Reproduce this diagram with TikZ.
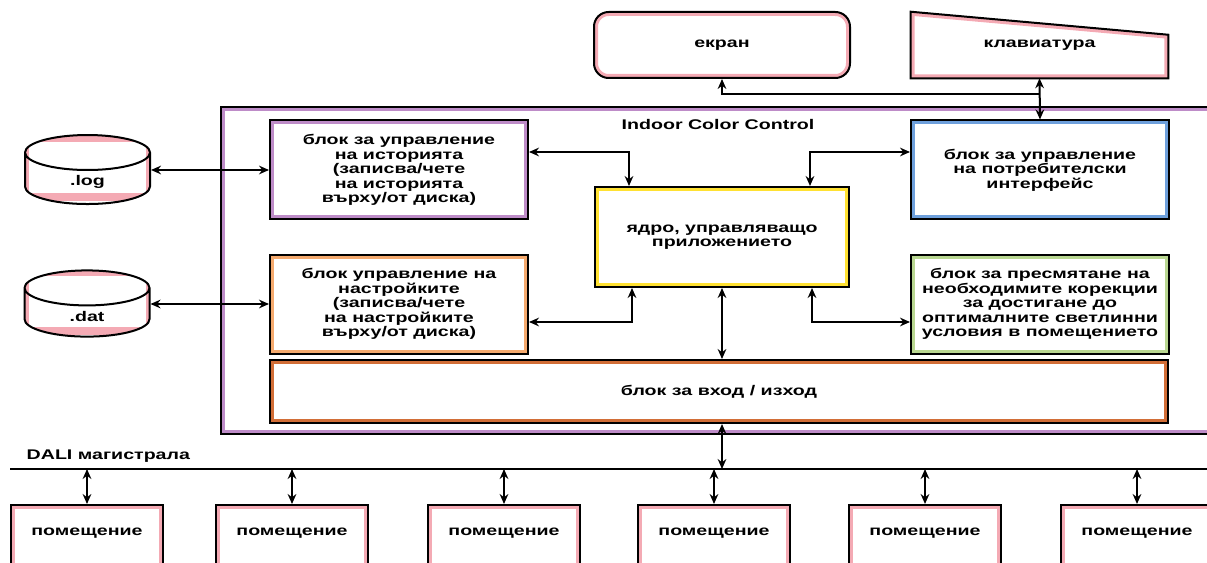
\documentclass[tikz,border=0pt]{standalone}
\usepackage{fontspec}
\setmainfont{Liberation Sans}[FakeStretch=1.4]
\usetikzlibrary{arrows.meta,shapes.geometric,positioning}

\definecolor{bandpink}{RGB}{244,170,180}
\definecolor{bandpurple}{RGB}{190,140,200}
\definecolor{bandorange}{RGB}{245,170,110}
\definecolor{bandyellow}{RGB}{255,225,50}
\definecolor{bandblue}{RGB}{110,160,220}
\definecolor{bandgreen}{RGB}{185,215,145}
\definecolor{bandrust}{RGB}{210,110,55}

\begin{document}
\begin{tikzpicture}[
    x=0.75pt, y=-0.75pt,
    font=\fontsize{10.5}{10.8}\selectfont\bfseries,
    block/.style={draw=black, line width=1.5pt, rectangle, align=center, inner sep=2pt,
        path picture={\draw[#1, line width=6pt] (path picture bounding box.south west) rectangle (path picture bounding box.north east);}},
    unit/.style={block=#1, minimum width=193.5pt, minimum height=74.25pt},
    screen/.style={draw=black, line width=1.5pt, rectangle, rounded corners=11pt, minimum width=192pt, minimum height=49.5pt,
        path picture={\draw[bandpink, line width=6pt, rounded corners=11pt] (path picture bounding box.south west) rectangle (path picture bounding box.north east);}},
    cyl/.style={cylinder, shape border rotate=90, shape aspect=0.8, draw=black, line width=1.5pt, minimum width=93.75pt, minimum height=44pt,
        path picture={\node[cylinder, shape border rotate=90, shape aspect=0.8, draw=bandpink, line width=6pt, minimum width=93.75pt, minimum height=44pt, inner sep=0pt] at (path picture bounding box.center) {};}},
    room/.style={block=bandpink, minimum width=114pt, minimum height=60pt, label={[yshift=9pt]center:помещение}},
    link/.style={<->, line width=1.5pt, >={Stealth[length=7.5pt, width=6.5pt]}},
    feed/.style={->, line width=1.1pt, >={Stealth[length=7.5pt, width=6.5pt]}},
    bus/.style={line width=0.9pt}
]
    \useasboundingbox (0,0) rectangle (1207,563);
    \clip (0,0) rectangle (1207,563);

    % Screen and keyboard
    \node [screen] (scr) at (722,45) {екран};
    \node [minimum width=192.75pt, minimum height=49.5pt] (kbd) at (1039.5,45) {клавиатура};
    \draw [line width=1.5pt, path picture={\draw[bandpink, line width=6pt] (path picture bounding box.south west) rectangle (path picture bounding box.north east) (path picture bounding box.north west) -- ([yshift=-17.25pt]path picture bounding box.north east);}]
        (kbd.north west) -- ([yshift=-17.25pt]kbd.north east) -- (kbd.south east) -- (kbd.south west) -- cycle;

    % Indoor Color Control frame
    \node [block=bandpurple, minimum width=756.75pt, minimum height=245.25pt] (icc) at (725.5,270.5) {};
    \node (title) at (718,124) {Indoor Color Control};

    % Files
    \node [cyl] (logf) at (87.5,182) {.log};
    \node [cyl] (datf) at (87,316) {.dat};

    % Inner blocks
    \node [unit=bandpurple] (hist) at (399,170) {блок за управление\\на историята\\(записва/чете\\на историята\\върху/от диска)};
    \node [unit=bandorange] (sett) at (399,304) {блок управление на\\настройките\\(записва/чете\\на настройките\\върху/от диска)};
    \node [block=bandyellow, minimum width=190.5pt, minimum height=75pt] (core) at (722,237) {ядро, управляващо\\приложението};
    \node [unit=bandblue] (ui) at (1040,170) {блок за управление\\на потребителски\\интерфейс};
    \node [unit=bandgreen] (calc) at (1040,304) {блок за пресмятане на\\необходимите корекции\\за достигане до\\оптималните светлинни\\условия в помещението};
    \node [block=bandrust, minimum width=673.5pt, minimum height=47.25pt] (io) at (719,391.5) {блок за вход / изход};

    % DALI bus and rooms
    \coordinate (busL) at (10,469);
    \coordinate (busR) at (1207,469);
    \draw [bus] (busL) -- (busR);
    \node [anchor=south west] (dali) at (22,467) {DALI магистрала};
    \node [room] (room1) at (87,545) {};
    \node [room] (room2) at (292,545) {};
    \node [room] (room3) at (504,545) {};
    \node [room] (room4) at (714,545) {};
    \node [room] (room5) at (925,545) {};
    \node [room] (room6) at (1137,545) {};

    % Arrows to files
    \draw [link] (hist.west -| logf.east) -- (hist.west);
    \draw [link] (sett.west -| datf.east) -- (sett.west);

    % Arrows around the core
    \draw [link] ([yshift=13.5pt]hist.east) -| ([xshift=-69.75pt]core.north);
    \draw [link] ([yshift=13.5pt]ui.west) -| ([xshift=66pt]core.north);
    \draw [link] ([yshift=-13.5pt]sett.east) -| ([xshift=-67.5pt]core.south);
    \draw [link] ([yshift=-13.5pt]calc.west) -| ([xshift=67.5pt]core.south);
    \draw [link] (core.south) -- (core.south |- io.north);

    % Screen and keyboard arrows
    \coordinate (kj) at (1039.5,94);
    \draw [link] (kbd.south) -- (ui.north);
    \draw [feed] (kj) -| (scr.south);

    % Bus arrows
    \draw [link] (core.south |- io.south) -- (core.south |- busL);
    \draw [link] (room1.north |- busL) -- (room1.north);
    \draw [link] (room2.north |- busL) -- (room2.north);
    \draw [link] (room3.north |- busL) -- (room3.north);
    \draw [link] (room4.north |- busL) -- (room4.north);
    \draw [link] (room5.north |- busL) -- (room5.north);
    \draw [link] (room6.north |- busL) -- (room6.north);

\end{tikzpicture}
\end{document}
